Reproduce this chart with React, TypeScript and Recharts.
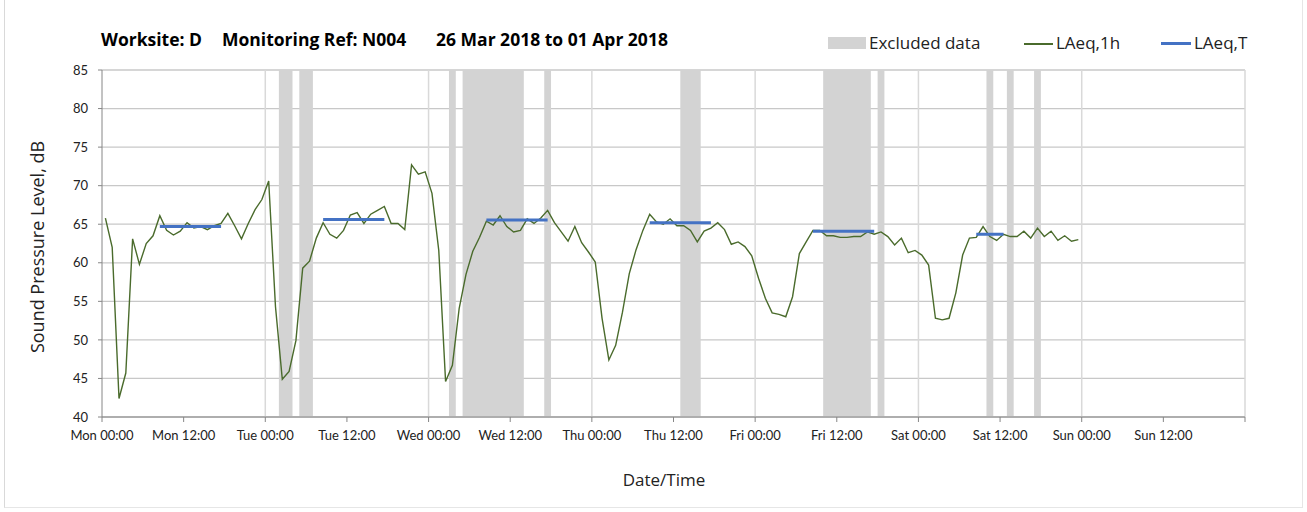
import { CartesianGrid, ComposedChart, Line, ReferenceArea, ReferenceLine, XAxis, YAxis } from 'recharts'

// hourly LAeq,1h values, Mon 00:00 onwards (one per hour, plotted mid-hour)
const hourlyLevels = [
  65.8, 62.0, 42.4, 45.7, 63.1, 59.8, 62.5, 63.5, 66.1, 64.2, 63.6, 64.1,
  65.2, 64.5, 64.7, 64.3, 64.8, 65.1, 66.4, 64.8, 63.1, 65.1, 66.9, 68.2,
  70.6, 54.3, 44.9, 45.9, 49.9, 59.3, 60.2, 63.2, 65.2, 63.7, 63.2, 64.2,
  66.2, 66.5, 65.1, 66.3, 66.8, 67.3, 65.1, 65.1, 64.3, 72.7, 71.5, 71.8,
  69.0, 61.6, 44.6, 46.7, 54.1, 58.5, 61.5, 63.3, 65.4, 64.9, 66.1, 64.7,
  64.0, 64.2, 65.7, 65.1, 65.8, 66.8, 65.2, 64.0, 62.8, 64.7, 62.6, 61.4,
  60.1, 52.8, 47.4, 49.3, 53.6, 58.6, 61.7, 64.2, 66.3, 65.3, 65.0, 65.7,
  64.8, 64.8, 64.2, 62.7, 64.1, 64.5, 65.2, 64.3, 62.4, 62.7, 62.1, 60.9,
  58.0, 55.4, 53.5, 53.3, 53.0, 55.6, 61.2, 62.7, 64.2, 64.2, 63.5, 63.5,
  63.3, 63.3, 63.4, 63.4, 64.0, 63.7, 64.0, 63.4, 62.3, 63.2, 61.3, 61.6,
  61.0, 59.7, 52.8, 52.6, 52.8, 56.1, 61.0, 63.2, 63.3, 64.7, 63.4, 62.9,
  63.7, 63.4, 63.4, 64.1, 63.2, 64.5, 63.4, 64.1, 62.9, 63.5, 62.8, 63.0,
]

// LAeq,T over each daytime period (hours from Mon 00:00)
const periodStart = [8.5, 32.5, 56.5, 80.5, 104.5, 128.5]
const periodEnd = [17.5, 41.5, 65.5, 89.5, 113.5, 132.5]
const periodLevel = [64.7, 65.6, 65.55, 65.2, 64.1, 63.7]

// excluded data windows (hours from Mon 00:00)
const excludedStart = [26, 29, 51, 53, 65, 85, 106, 114, 130, 133, 137]
const excludedEnd = [28, 31, 52, 62, 66, 88, 113, 115, 131, 134, 138]

const xTicks = [0, 12, 24, 36, 48, 60, 72, 84, 96, 108, 120, 132, 144, 156, 168]
const xTickLabels = [
  'Mon 00:00', 'Mon 12:00', 'Tue 00:00', 'Tue 12:00', 'Wed 00:00', 'Wed 12:00', 'Thu 00:00',
  'Thu 12:00', 'Fri 00:00', 'Fri 12:00', 'Sat 00:00', 'Sat 12:00', 'Sun 00:00', 'Sun 12:00', '',
]
const dayLines = [24, 48, 72, 96, 120, 144, 168]
const yTicks = [40, 45, 50, 55, 60, 65, 70, 75, 80, 85]

const FONT = '"Open Sans", Lato, sans-serif'
const TICK_FONT = 'Lato, "Open Sans", sans-serif'
const GREEN = '#4a6b2c'
const BLUE = '#4472c4'
const SHADE = '#d3d3d3'

const hourlyRows = hourlyLevels.map((v, i) => ({ t: i + 0.5, v }))

export default function App() {
  return (
    <div style={{ position: 'absolute', left: 0, top: 0, width: 1307, height: 512, background: '#fff', fontFamily: FONT, color: '#000' }}>
      <div style={{ position: 'absolute', left: 4, top: 0, width: 1297, height: 507, borderLeft: '1px solid #d9d9d9', borderRight: '1px solid #e6e6e6', borderBottom: '1px solid #e6e6e6' }} />

      <div style={{ position: 'absolute', top: 28, left: 0, fontSize: 17.5, fontWeight: 700, whiteSpace: 'nowrap', lineHeight: '22px' }}>
        <span style={{ position: 'absolute', left: 101 }}>Worksite: D</span>
        <span style={{ position: 'absolute', left: 222 }}>Monitoring Ref: N004</span>
        <span style={{ position: 'absolute', left: 436 }}>26 Mar 2018 to 01 Apr 2018</span>
      </div>

      <div style={{ position: 'absolute', top: 32, left: 0, fontSize: 17, whiteSpace: 'nowrap', color: '#222', lineHeight: '22px' }}>
        <div style={{ position: 'absolute', left: 828, top: 5, width: 38, height: 12, background: SHADE }} />
        <span style={{ position: 'absolute', left: 869 }}>Excluded data</span>
        <div style={{ position: 'absolute', left: 1024, top: 11, width: 29, height: 1.5, background: GREEN }} />
        <span style={{ position: 'absolute', left: 1056 }}>LAeq,1h</span>
        <div style={{ position: 'absolute', left: 1161, top: 10, width: 30, height: 3, background: BLUE }} />
        <span style={{ position: 'absolute', left: 1194 }}>LAeq,T</span>
      </div>

      <div style={{ position: 'absolute', left: 37, top: 247, transform: 'translate(-50%, -50%) rotate(-90deg)', fontSize: 18, whiteSpace: 'nowrap', color: '#222' }}>
        Sound Pressure Level, dB
      </div>
      <div style={{ position: 'absolute', left: 664, top: 479, transform: 'translate(-50%, -50%)', fontSize: 17, whiteSpace: 'nowrap', color: '#222' }}>
        Date/Time
      </div>

      <ComposedChart width={1307} height={512} margin={{ top: 70, right: 62, bottom: 65, left: 42 }} style={{ position: 'absolute', left: 0, top: 0 }}>
        <CartesianGrid vertical={false} stroke="#c8c8c8" strokeWidth={1.3} />
        {dayLines.map((d) => (
          <ReferenceLine key={d} x={d} stroke="#d9d9d9" strokeWidth={1.5} />
        ))}
        {excludedStart.map((s, i) => (
          <ReferenceArea key={s} x1={s} x2={excludedEnd[i]} y1={40} y2={85} fill={SHADE} fillOpacity={1} stroke="none" />
        ))}
        <XAxis
          dataKey="t"
          type="number"
          domain={[0, 168]}
          ticks={xTicks}
          allowDataOverflow
          interval={0}
          tickSize={5}
          tickMargin={9}
          height={30}
          stroke="#868686"
          tickFormatter={(value: number) => xTickLabels[xTicks.indexOf(value)] ?? ''}
          tick={{ fill: '#222', fontSize: 13, fontFamily: TICK_FONT }}
        />
        <YAxis
          type="number"
          domain={[40, 85]}
          ticks={yTicks}
          allowDataOverflow
          interval={0}
          width={60}
          tickSize={4}
          tickMargin={10}
          stroke="#868686"
          tick={{ fill: '#222', fontSize: 13, fontFamily: TICK_FONT }}
        />
        <Line data={hourlyRows} dataKey="v" type="linear" stroke={GREEN} strokeWidth={1.4} dot={false} activeDot={false} isAnimationActive={false} />
        {periodStart.map((s, i) => (
          <Line
            key={s}
            data={[{ t: s, v: periodLevel[i] }, { t: periodEnd[i], v: periodLevel[i] }]}
            dataKey="v"
            type="linear"
            stroke={BLUE}
            strokeWidth={3}
            dot={false}
            activeDot={false}
            isAnimationActive={false}
          />
        ))}
      </ComposedChart>
    </div>
  )
}
